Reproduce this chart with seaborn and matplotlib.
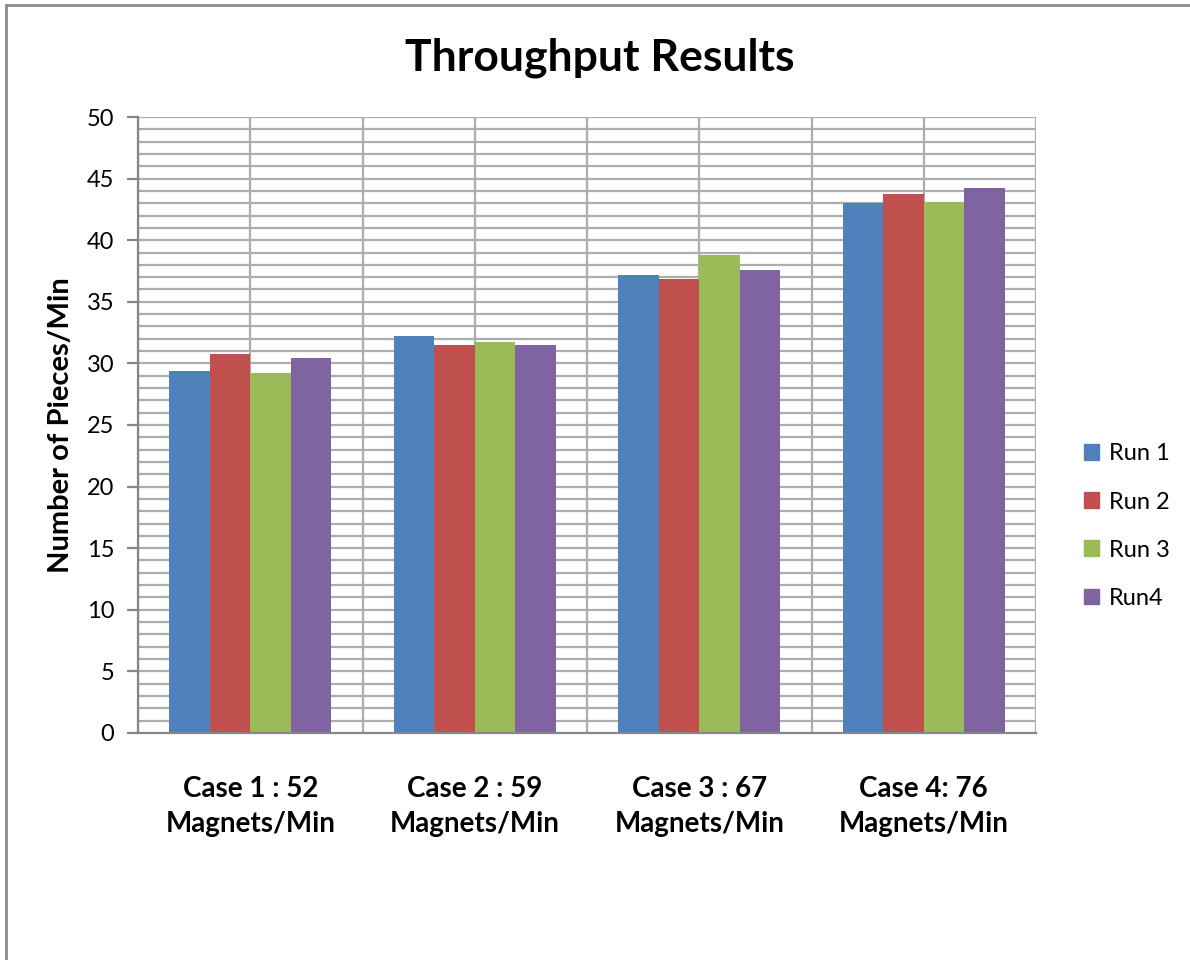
import matplotlib
matplotlib.use("Agg")
import matplotlib.pyplot as plt
from matplotlib.lines import Line2D
from matplotlib.ticker import MultipleLocator
import numpy as np
import pandas as pd
import seaborn as sns

# Throughput per case, one list per run
cases = ["Case 1 : 52\nMagnets/Min", "Case 2 : 59\nMagnets/Min",
         "Case 3 : 67\nMagnets/Min", "Case 4: 76\nMagnets/Min"]
run1 = [29.4, 32.2, 37.2, 43.05]
run2 = [30.8, 31.5, 36.85, 43.75]
run3 = [29.2, 31.7, 38.8, 43.1]
run4 = [30.4, 31.5, 37.55, 44.25]
run_names = ["Run 1", "Run 2", "Run 3", "Run4"]
colors = ["#4F81BD", "#C0504D", "#9BBB59", "#8064A2"]

df = pd.DataFrame({
    "case": cases * 4,
    "run": [r for r in run_names for _ in cases],
    "value": run1 + run2 + run3 + run4,
})

sns.set_theme(style="white")
plt.rcParams["font.family"] = ["Lato", "DejaVu Sans"]
plt.rcParams["text.color"] = "black"
plt.rcParams["xtick.color"] = "black"
plt.rcParams["ytick.color"] = "black"
plt.rcParams["axes.labelcolor"] = "black"

fig = plt.figure(figsize=(11.9, 9.6), dpi=100)
ax = fig.add_axes([0.116, 0.2365, 0.7546, 0.6416])

sns.barplot(data=df, x="case", y="value", hue="run", order=cases,
            hue_order=run_names, palette=colors, width=0.72, gap=0,
            saturation=1, edgecolor="none", ax=ax, legend=False, zorder=3)

ax.set_xlim(-0.5, 3.5)
ax.set_ylim(0, 50)
grid_c = "#adadad"
# horizontal gridlines every unit, vertical ones every half category
for yv in np.arange(1, 51, 1):
    ax.axhline(yv, color=grid_c, lw=1.6, zorder=1)
for xv in np.arange(-0.5, 3.51, 0.5):
    ax.axvline(xv, color=grid_c, lw=1.6, zorder=1)

for s in ["top", "right"]:
    ax.spines[s].set_visible(False)
for s in ["left", "bottom"]:
    ax.spines[s].set_color("#868686")
    ax.spines[s].set_linewidth(1.6)
    ax.spines[s].set_zorder(4)

ax.yaxis.set_major_locator(MultipleLocator(5))
ax.tick_params(axis="y", which="major", direction="out", length=8, width=1.6,
               color="#868686", labelcolor="black", labelsize=17, pad=9, left=True)
ax.tick_params(axis="x", length=0, labelsize=20, pad=31, labelcolor="black")
for lab in ax.get_xticklabels():
    lab.set_fontweight("bold")
    lab.set_linespacing(1.45)
ax.set_xlabel("")
ax.set_ylabel("Number of Pieces/Min", fontsize=21, fontweight="bold", labelpad=9)

fig.text(0.504, 0.94, "Throughput Results", ha="center", va="center",
         fontsize=32, fontweight="bold")

handles = [plt.Rectangle((0, 0), 1, 1, color=c) for c in colors]
fig.legend(handles, run_names, loc="center left", bbox_to_anchor=(0.911, 0.452),
           frameon=False, fontsize=17, handlelength=0.65, handleheight=0.65,
           handletextpad=0.4, labelspacing=1.15, borderpad=0, borderaxespad=0)

# chart frame along left and top edges
fig.add_artist(Line2D([0.0048, 0.0048], [0, 0.9948], transform=fig.transFigure,
                      color="#8c8c8c", lw=2))
fig.add_artist(Line2D([0.0048, 1.0], [0.9948, 0.9948], transform=fig.transFigure,
                      color="#8c8c8c", lw=2))

fig.savefig("out.png", dpi=100, facecolor="white")
